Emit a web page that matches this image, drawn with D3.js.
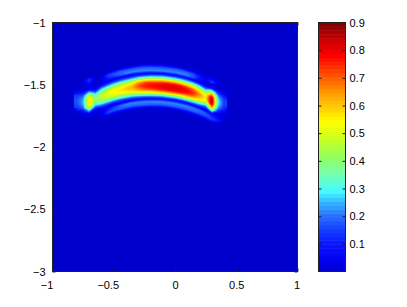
<!DOCTYPE html>
<html>
<head>
<meta charset="utf-8">
<script src="https://cdn.jsdelivr.net/npm/d3@7"></script>
<style>
  body { margin: 0; background: #fff; }
  svg { display: block; font-family: "Liberation Sans", Arial, sans-serif; }
</style>
</head>
<body>
<svg id="chart" width="407" height="307"></svg>
<script>
// x of every grid column along the arc
var colX = [-0.8, -0.75, -0.7, -0.65, -0.6, -0.55, -0.5, -0.45, -0.4, -0.35, -0.3, -0.25,
            -0.2, -0.15, -0.1, -0.05, 0, 0.05, 0.1, 0.15, 0.2, 0.25, 0.3, 0.35, 0.4];
// y of the arc centre line at each column
var centerY = [-1.635, -1.639, -1.635, -1.618, -1.595, -1.576, -1.558, -1.544, -1.533, -1.523,
               -1.516, -1.512, -1.510, -1.511, -1.513, -1.519, -1.526, -1.536, -1.549, -1.564,
               -1.582, -1.603, -1.629, -1.639, -1.647];
// vertical offset of each grid row from the centre line (top row first)
var rowOffset = [0.2, 0.175, 0.15, 0.125, 0.1, 0.075, 0.05, 0.025, 0, -0.025, -0.05, -0.075,
                 -0.1, -0.125, -0.15, -0.175, -0.2];
// field value (x100) per column, top to bottom
var columnValues = [
  [0,0,0,0,1,6,14,16,17,16,14,6,1,0,0,0,0],
  [0,0,0,1,2,9,18,23,25,23,18,9,2,1,0,0,0],
  [0,15,10,2,4,24,50,57,58,57,50,24,4,2,1,0,0],
  [0,1,1,1,2,8,24,36,40,36,24,8,2,1,1,1,0],
  [0,1,2,2,3,16,34,44,47,44,34,16,3,2,2,1,0],
  [0,2,15,10,4,18,36,48,52,48,36,18,4,10,15,2,0],
  [0,2,17,15,4,19,39,51,55,51,39,19,4,15,17,2,0],
  [0,2,18,19,4,20,40,52,57,52,40,20,4,19,18,2,0],
  [0,2,18,22,4,21,42,55,60,55,42,21,4,22,18,2,0],
  [0,2,18,22,5,22,44,58,63,58,44,22,5,22,18,2,0],
  [0,2,18,22,5,25,52,68,71,63,48,25,5,22,18,2,0],
  [0,2,18,22,5,27,55,73,76,69,51,27,5,22,18,2,0],
  [0,2,18,22,6,28,56,75,78,72,53,28,6,22,18,2,0],
  [0,2,18,22,6,28,56,75,79,75,56,28,6,22,18,2,0],
  [0,2,18,22,6,29,57,77,81,77,57,29,6,22,18,2,0],
  [0,2,18,22,6,29,58,78,82,78,58,29,6,22,18,2,0],
  [0,2,18,22,6,29,58,78,82,78,58,29,6,22,18,2,0],
  [0,2,18,22,6,29,57,77,81,77,57,29,6,22,18,2,0],
  [0,2,18,22,6,28,55,74,79,74,55,28,6,22,18,2,0],
  [0,2,16,18,6,27,53,69,75,69,53,27,6,21,18,2,0],
  [0,2,10,8,5,24,46,60,66,60,46,24,5,20,17,2,0],
  [0,2,4,3,3,16,36,51,56,51,36,16,3,18,16,2,0],
  [0,6,16,2,8,38,66,84,87,84,66,38,8,12,15,2,0],
  [0,2,4,1,3,12,22,28,30,28,22,12,3,5,11,1,0],
  [0,0,0,1,1,5,11,14,15,14,11,5,1,1,1,0,0]
];
var backgroundValue = 0;

var xTicks = [-1, -0.5, 0, 0.5, 1];
var yTicks = [-1, -1.5, -2, -2.5, -3];
var cbarTicks = [0.1, 0.2, 0.3, 0.4, 0.5, 0.6, 0.7, 0.8, 0.9];

// colour map stops
var stopValues = [0, 0.04, 0.1, 0.15, 0.2, 0.25, 0.29, 0.35, 0.42, 0.48, 0.54, 0.6, 0.66, 0.72, 0.78, 0.84, 0.9];
var stopColors = ["#0000cd", "#0000f0", "#0a14ff", "#143cff", "#286eff", "#32b4ff", "#46faff", "#6effb4",
                  "#96ff5a", "#c8ff1e", "#ffff00", "#ffc800", "#ff8c00", "#ff4600", "#ff0000", "#c80000", "#800000"];

var svg = d3.select("#chart"),
    plotLeft = 52.5, plotRight = 297.5, plotTop = 22.5, plotBottom = 271.5,
    cbLeft = 318.5, cbRight = 345.5;

var x = d3.scaleLinear().domain([-1, 1]).range([plotLeft, plotRight]);
var y = d3.scaleLinear().domain([-1, -3]).range([plotTop, plotBottom]);
var color = d3.scaleLinear().domain(stopValues).range(stopColors).clamp(true);

var nCols = colX.length, nRows = rowOffset.length;
var values = [];
for (var j = 0; j < nRows; j++)
  for (var i = 0; i < nCols; i++)
    values.push(columnValues[i][j] / 100);

var colToX = d3.scaleLinear().domain(d3.range(nCols)).range(colX);
var colToCenter = d3.scaleLinear().domain(d3.range(nCols)).range(centerY);
var rowToOffset = d3.scaleLinear().domain(d3.range(nRows)).range(rowOffset);

// grid space -> data space along the arc -> pixels
var arcProjection = d3.geoTransform({
  point: function(px, py) {
    var u = px - 0.5, w = py - 0.5;
    this.stream.point(x(colToX(u)), y(colToCenter(u) + rowToOffset(w)));
  }
});
var path = d3.geoPath(arcProjection);

svg.append("clipPath").attr("id", "plotclip")
   .append("rect").attr("x", plotLeft).attr("y", plotTop)
   .attr("width", plotRight - plotLeft).attr("height", plotBottom - plotTop);

var plot = svg.append("g").attr("clip-path", "url(#plotclip)");
plot.append("rect")
    .attr("x", plotLeft).attr("y", plotTop)
    .attr("width", plotRight - plotLeft).attr("height", plotBottom - plotTop)
    .attr("fill", color(backgroundValue));

var step = 0.0125;
var thresholds = d3.range(0.015, 0.9, step);
var contours = d3.contours().size([nCols, nRows]).thresholds(thresholds)(values);

plot.selectAll("path.level")
    .data(contours)
    .enter().append("path")
    .attr("class", "level")
    .attr("d", path)
    .attr("fill", function(d) { return color(d.value + step / 2); });

// axes, MATLAB style: inward ticks on every side of the box
var fmt = d3.format("");
svg.append("g")
   .attr("class", "xaxis")
   .attr("transform", "translate(0," + plotBottom + ")")
   .call(d3.axisBottom(x).tickValues(xTicks).tickSizeInner(-3).tickSizeOuter(0).tickPadding(10).tickFormat(fmt));
svg.append("g")
   .attr("transform", "translate(0," + plotTop + ")")
   .call(d3.axisTop(x).tickValues(xTicks).tickSizeInner(-3).tickSizeOuter(0).tickFormat(""));
svg.append("g")
   .attr("transform", "translate(" + plotLeft + ",0)")
   .call(d3.axisLeft(y).tickValues(yTicks).tickSizeInner(-3).tickSizeOuter(0).tickPadding(7).tickFormat(fmt));
svg.append("g")
   .attr("transform", "translate(" + plotRight + ",0)")
   .call(d3.axisRight(y).tickValues(yTicks).tickSizeInner(-3).tickSizeOuter(0).tickFormat(""));

// negative labels sit a little to the left, as in the original figure
svg.selectAll(".xaxis .tick text").attr("dx", function(d) { return d < 0 ? -6 : (d === 1 ? -1 : 0); });

// colour bar
var cb = d3.scaleLinear().domain([0, 0.9]).range([plotBottom, plotTop]);
var nSteps = 64, cbStep = 0.9 / nSteps;
svg.append("g").selectAll("rect")
   .data(d3.range(nSteps))
   .enter().append("rect")
   .attr("x", cbLeft)
   .attr("width", cbRight - cbLeft)
   .attr("y", function(k) { return cb((k + 1) * cbStep); })
   .attr("height", function(k) { return cb(k * cbStep) - cb((k + 1) * cbStep) + 0.5; })
   .attr("fill", function(k) { return color((k + 0.5) * cbStep); });

svg.append("g")
   .attr("transform", "translate(" + cbRight + ",0)")
   .call(d3.axisRight(cb).tickValues(cbarTicks).tickSizeInner(-3).tickSizeOuter(0).tickPadding(4).tickFormat(fmt));
svg.append("g")
   .attr("transform", "translate(" + cbLeft + ",0)")
   .call(d3.axisLeft(cb).tickValues(cbarTicks).tickSizeInner(-3).tickSizeOuter(0).tickFormat(""));

svg.selectAll(".domain").remove();
svg.selectAll(".tick line").attr("stroke", "#222");
svg.selectAll(".tick text").attr("font-size", "11px").attr("font-family", "Liberation Sans, Arial, sans-serif").attr("fill", "#000");

// boxes
svg.append("rect")
   .attr("x", plotLeft).attr("y", plotTop)
   .attr("width", plotRight - plotLeft).attr("height", plotBottom - plotTop)
   .attr("fill", "none").attr("stroke", "#222");
svg.append("rect")
   .attr("x", cbLeft).attr("y", plotTop)
   .attr("width", cbRight - cbLeft).attr("height", plotBottom - plotTop)
   .attr("fill", "none").attr("stroke", "#222");
</script>
</body>
</html>
